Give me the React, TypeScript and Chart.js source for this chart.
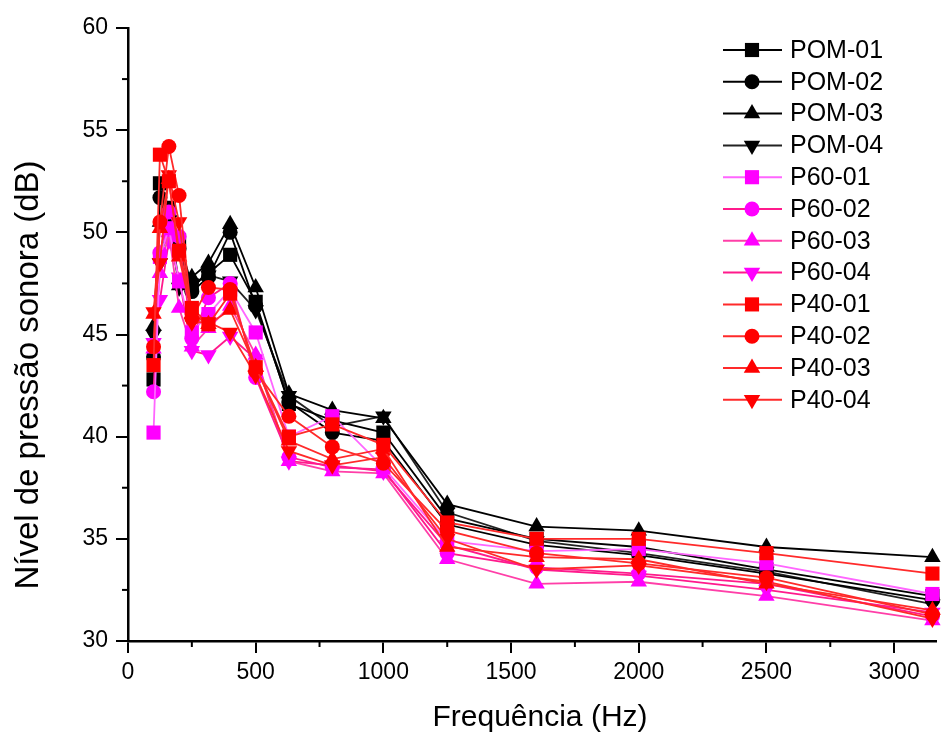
import React, { useEffect, useRef } from 'react';
import { Chart, registerables } from 'chart.js';

Chart.register(...registerables);

const freqs = [100, 125, 160, 200, 250, 315, 400, 500, 630, 800, 1000, 1250, 1600, 2000, 2500, 3150];

const pom01 = [42.8, 52.4, 51.2, 49.6, 47.4, 48.0, 48.9, 46.6, 41.6, 40.8, 40.2, 36.0, 35.0, 34.6, 33.5, 32.2];
const pom02 = [43.9, 51.7, 50.8, 49.2, 47.1, 47.8, 50.0, 46.4, 41.7, 40.2, 39.8, 35.7, 34.7, 34.2, 33.3, 32.0];
const pom03 = [45.4, 50.5, 51.0, 47.4, 47.8, 48.5, 50.4, 47.3, 42.1, 41.3, 40.9, 36.7, 35.6, 35.4, 34.6, 34.1];
const pom04 = [45.0, 48.5, 50.6, 47.3, 47.4, 47.9, 47.6, 46.2, 42.0, 40.5, 41.0, 36.3, 34.9, 34.3, 33.4, 31.8];

const p6001 = [40.2, 48.8, 50.2, 47.6, 45.1, 46.0, 47.2, 45.1, 40.0, 41.0, 38.5, 34.9, 34.4, 34.5, 33.8, 32.3];
const p6002 = [42.2, 49.0, 51.0, 49.8, 44.8, 46.8, 47.5, 42.9, 39.0, 38.5, 38.4, 34.3, 33.6, 33.3, 32.8, 31.2];
const p6003 = [44.3, 48.0, 50.0, 46.3, 44.4, 45.3, 46.4, 44.0, 38.8, 38.3, 38.2, 34.0, 32.8, 32.9, 32.2, 31.0];
const p6004 = [44.6, 46.7, 49.6, 47.8, 44.2, 44.0, 44.9, 43.8, 38.8, 38.6, 38.3, 34.7, 33.5, 33.2, 32.5, 31.4];

const p4001 = [43.5, 53.8, 52.5, 49.1, 46.3, 45.5, 47.0, 43.4, 40.0, 40.6, 39.6, 35.8, 35.0, 35.0, 34.3, 33.3];
const p4002 = [44.4, 50.5, 54.2, 51.8, 45.8, 47.3, 47.2, 43.2, 41.0, 39.5, 38.7, 35.4, 34.3, 33.8, 33.1, 31.3];
const p4003 = [46.0, 50.2, 52.6, 48.8, 46.0, 45.5, 46.2, 43.4, 39.8, 38.9, 39.4, 34.6, 34.1, 34.0, 32.8, 31.5];
const p4004 = [46.1, 48.5, 52.8, 50.5, 45.6, 45.6, 45.1, 43.0, 39.3, 38.6, 39.0, 35.0, 33.5, 33.7, 32.9, 31.1];

const seriesNames = ['POM-01', 'POM-02', 'POM-03', 'POM-04', 'P60-01', 'P60-02', 'P60-03', 'P60-04', 'P40-01', 'P40-02', 'P40-03', 'P40-04'];
const seriesValues = [pom01, pom02, pom03, pom04, p6001, p6002, p6003, p6004, p4001, p4002, p4003, p4004];
const shapes = ['rect', 'circle', 'up', 'down', 'rect', 'circle', 'up', 'down', 'rect', 'circle', 'up', 'down'];
const markerColors = ['#000000', '#000000', '#000000', '#000000', '#ff00ff', '#ff00ff', '#ff00ff', '#ff00ff', '#ff0000', '#ff0000', '#ff0000', '#ff0000'];
const lineColors = ['#000000', '#000000', '#000000', '#222222', '#ff66ff', '#ff1a8c', '#ff3fa8', '#ff1a8c', '#ff2a2a', '#ff2a2a', '#ff2a2a', '#ff2a2a'];
const drawOrders = [3, 3, 3, 3, 2, 2, 2, 2, 1, 1, 1, 1];

const xMin = 0;
const xMax = 3164;
const xTickValues = [0, 500, 1000, 1500, 2000, 2500, 3000];
const xMinorValues = [250, 750, 1250, 1750, 2250, 2750];
const yMin = 30;
const yMax = 60;
const yTickValues = [30, 35, 40, 45, 50, 55, 60];
const yMinorValues = [32.5, 37.5, 42.5, 47.5, 52.5, 57.5];

const xTitle = 'Frequência (Hz)';
const yTitle = 'Nível de pressão sonora (dB)';

const FONT = '"Liberation Sans", Arial, sans-serif';

function radiusFor(shape: string) {
  if (shape === 'rect') return 10;
  if (shape === 'circle') return 7.5;
  return 9.5;
}

function drawMarker(ctx: CanvasRenderingContext2D, shape: string, x: number, y: number, color: string) {
  const r = radiusFor(shape);
  ctx.fillStyle = color;
  ctx.beginPath();
  if (shape === 'rect') {
    const s = r * Math.SQRT1_2;
    ctx.rect(x - s, y - s, 2 * s, 2 * s);
  } else if (shape === 'circle') {
    ctx.arc(x, y, r, 0, Math.PI * 2);
  } else {
    let rad = shape === 'up' ? 0 : Math.PI;
    const step = (2 * Math.PI) / 3;
    ctx.moveTo(x + Math.sin(rad) * r, y - Math.cos(rad) * r);
    rad += step;
    ctx.lineTo(x + Math.sin(rad) * r, y - Math.cos(rad) * r);
    rad += step;
    ctx.lineTo(x + Math.sin(rad) * r, y - Math.cos(rad) * r);
    ctx.closePath();
  }
  ctx.fill();
}

const axisExtrasPlugin = {
  id: 'axisExtras',
  afterDraw(chart: any) {
    const ctx = chart.ctx as CanvasRenderingContext2D;
    const xs = chart.scales.x;
    const ys = chart.scales.y;
    ctx.save();
    ctx.strokeStyle = '#000';
    ctx.lineWidth = 2;
    xMinorValues.forEach((v) => {
      const px = xs.getPixelForValue(v);
      ctx.beginPath();
      ctx.moveTo(px, ys.bottom);
      ctx.lineTo(px, ys.bottom + 6);
      ctx.stroke();
    });
    yMinorValues.forEach((v) => {
      const py = ys.getPixelForValue(v);
      ctx.beginPath();
      ctx.moveTo(xs.left, py);
      ctx.lineTo(xs.left - 6, py);
      ctx.stroke();
    });
    // axis titles
    ctx.fillStyle = '#000';
    ctx.textAlign = 'center';
    ctx.textBaseline = 'middle';
    ctx.font = `30px ${FONT}`;
    ctx.fillText(xTitle, 540, 718);
    ctx.translate(29, 375);
    ctx.rotate(-Math.PI / 2);
    ctx.font = `33px ${FONT}`;
    ctx.fillText(yTitle, 0, 0);
    ctx.restore();
  },
};

const legendPlugin = {
  id: 'insideLegend',
  afterDraw(chart: any) {
    const ctx = chart.ctx as CanvasRenderingContext2D;
    ctx.save();
    seriesNames.forEach((name, i) => {
      const y = 50 + i * 31.8;
      ctx.strokeStyle = lineColors[i];
      ctx.lineWidth = 2;
      ctx.beginPath();
      ctx.moveTo(723, y);
      ctx.lineTo(782, y);
      ctx.stroke();
      drawMarker(ctx, shapes[i], 752, y, markerColors[i]);
      ctx.fillStyle = '#000';
      ctx.font = `25px ${FONT}`;
      ctx.textBaseline = 'middle';
      ctx.textAlign = 'left';
      ctx.fillText(name, 790, y + 1);
    });
    ctx.restore();
  },
};

export default function App() {
  const canvasRef = useRef<HTMLCanvasElement | null>(null);

  useEffect(() => {
    document.body.style.margin = '0';
    const canvas = canvasRef.current;
    if (!canvas) return;
    const datasets = seriesNames.map((name, i) => ({
      label: name,
      data: freqs.map((f, j) => ({ x: f, y: seriesValues[i][j] })),
      borderColor: lineColors[i],
      backgroundColor: markerColors[i],
      borderWidth: 1.8,
      pointStyle: shapes[i] === 'rect' ? 'rect' : shapes[i] === 'circle' ? 'circle' : 'triangle',
      rotation: shapes[i] === 'down' ? 180 : 0,
      pointRadius: radiusFor(shapes[i]),
      pointBackgroundColor: markerColors[i],
      pointBorderColor: markerColors[i],
      pointBorderWidth: 0,
      tension: 0,
      order: drawOrders[i],
      clip: false as any,
    }));
    const chart = new Chart(canvas, {
      type: 'line',
      data: { datasets },
      options: {
        animation: false,
        responsive: false,
        maintainAspectRatio: false,
        layout: { padding: { top: 28, right: 0, bottom: 0, left: 0 } },
        plugins: { legend: { display: false }, tooltip: { enabled: false } },
        scales: {
          x: {
            type: 'linear',
            min: xMin,
            max: xMax,
            afterBuildTicks: (s: any) => { s.ticks = xTickValues.map((v) => ({ value: v })); },
            ticks: {
              color: '#000',
              font: { family: FONT, size: 23 },
              padding: 6,
              maxRotation: 0,
              autoSkip: false,
              callback: (v: any) => String(v),
            },
            grid: { display: true, drawOnChartArea: false, drawTicks: true, tickLength: 12, color: '#000', lineWidth: 2 },
            border: { display: true, color: '#000', width: 2.5 },
            afterFit: (s: any) => { s.height = 95; s.paddingRight = 0; s.paddingLeft = 0; },
          },
          y: {
            type: 'linear',
            min: yMin,
            max: yMax,
            afterBuildTicks: (s: any) => { s.ticks = yTickValues.map((v) => ({ value: v })); },
            ticks: {
              color: '#000',
              font: { family: FONT, size: 23 },
              padding: 8,
              autoSkip: false,
              callback: (v: any) => String(v),
            },
            grid: { display: true, drawOnChartArea: false, drawTicks: true, tickLength: 12, color: '#000', lineWidth: 2 },
            border: { display: true, color: '#000', width: 2.5 },
            afterFit: (s: any) => { s.width = 128; },
          },
        },
      },
      plugins: [axisExtrasPlugin, legendPlugin],
    });
    return () => chart.destroy();
  }, []);

  return (
    <div style={{ width: 946, height: 736, background: '#fff' }}>
      <canvas ref={canvasRef} width={946} height={736} style={{ width: 946, height: 736, display: 'block' }} />
    </div>
  );
}
